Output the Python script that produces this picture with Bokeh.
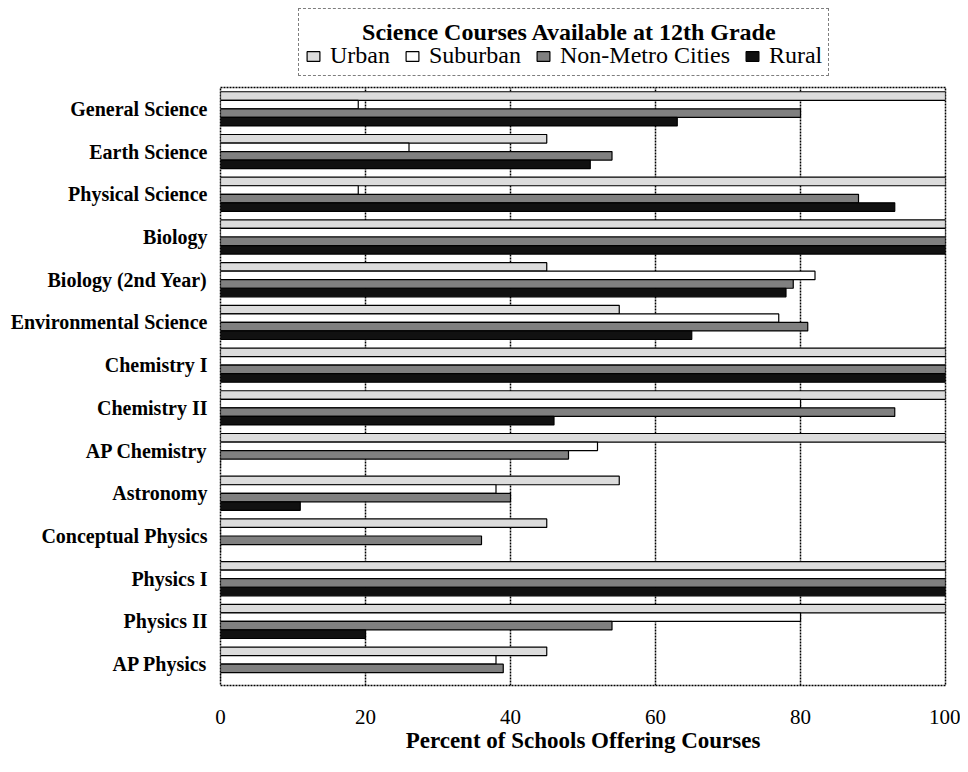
from bokeh.plotting import figure
from bokeh.layouts import column
from bokeh.models import (FactorRange, Range1d, Legend, LegendItem, ColumnDataSource,
                          FixedTicker, Label)
from bokeh.transform import dodge
from bokeh.embed import file_html
from bokeh.resources import INLINE

categories = ["General Science", "Earth Science", "Physical Science", "Biology",
              "Biology (2nd Year)", "Environmental Science", "Chemistry I", "Chemistry II",
              "AP Chemistry", "Astronomy", "Conceptual Physics", "Physics I", "Physics II",
              "AP Physics"]
series_names = ["Urban", "Suburban", "Non-Metro Cities", "Rural"]
urban = [100, 45, 100, 100, 45, 55, 100, 100, 100, 55, 45, 100, 100, 45]
suburban = [19, 26, 19, 100, 82, 77, 100, 80, 52, 38, 0, 100, 80, 38]
nonmetro = [80, 54, 88, 100, 79, 81, 100, 93, 48, 40, 36, 100, 54, 39]
rural = [63, 51, 93, 100, 78, 65, 100, 46, 0, 11, 0, 100, 20, 0]
x_ticks = [0, 20, 40, 60, 80, 100]

title_text = "Science Courses Available at 12th Grade"
x_title = "Percent of Schools Offering Courses"

colors = ["#dcdcdc", "#ffffff", "#808080", "#111111"]
offsets = [0.3, 0.1, -0.1, -0.3]
FONT = "Liberation Serif"

W = 960
HEAD_H = 80
LEFT = 220

# ---------------- header figure: title + legend ----------------
head = figure(width=W, height=HEAD_H, x_range=Range1d(0, 1), y_range=Range1d(0, 1),
              output_backend="svg", toolbar_location=None, min_border=0,
              min_border_left=LEFT, min_border_right=15)
head.axis.visible = False
head.grid.visible = False
head.outline_line_color = None

# legend-only proxy bars of zero size (nothing is drawn in the plot area)
proxies = []
for c in colors:
    r = head.hbar(y=[0.5], left=[0.5], right=[0.5], height=0, fill_color=c,
                  line_color="black", line_width=1.2)
    proxies.append(r)

items = [LegendItem(label=n, renderers=[r]) for n, r in zip(series_names, proxies)]
legend = Legend(items=items, orientation="horizontal",
                location=(298 - LEFT, HEAD_H - 76), title=" ")
legend.title_text_font = FONT
legend.title_text_font_size = "24px"
legend.title_standoff = 0
legend.label_text_font = FONT
legend.label_text_font_size = "24px"
legend.label_text_color = "black"
legend.glyph_width = 16
legend.glyph_height = 12
legend.label_standoff = 9
legend.spacing = 14
legend.padding = 6
legend.margin = 0
legend.border_line_color = "black"
legend.border_line_dash = "2 1"
legend.border_line_width = 1.5
legend.background_fill_alpha = 0.0
head.add_layout(legend, "center")

head.add_layout(Label(x=569 - LEFT, y=HEAD_H - 31, x_units="screen", y_units="screen",
                      text=title_text, text_align="center", text_baseline="middle",
                      text_font=FONT, text_font_style="bold", text_font_size="24px",
                      text_color="black"))

# ---------------- main chart ----------------
src = ColumnDataSource(dict(cat=categories, urban=urban, suburban=suburban,
                            nonmetro=nonmetro, rural=rural))

p = figure(width=W, height=756 - HEAD_H,
           y_range=FactorRange(*reversed(categories)), x_range=Range1d(0, 100),
           output_backend="svg", toolbar_location=None,
           min_border_left=LEFT, min_border_right=15,
           min_border_top=87 - HEAD_H, min_border_bottom=71)

for col, c, off in zip(["urban", "suburban", "nonmetro", "rural"], colors, offsets):
    p.hbar(y=dodge("cat", off, range=p.y_range), left=0, right=col, height=0.2,
           source=src, fill_color=c, line_color="black", line_width=1.2)

p.outline_line_color = "black"
p.outline_line_dash = "2 1"
p.outline_line_width = 1.5

p.xgrid.ticker = FixedTicker(ticks=x_ticks)
p.xgrid.grid_line_color = "black"
p.xgrid.grid_line_dash = "2 1"
p.xgrid.grid_line_width = 1.5
p.ygrid.grid_line_color = None

p.xaxis.ticker = FixedTicker(ticks=x_ticks)
p.xaxis.axis_line_color = None
p.xaxis.major_tick_line_color = None
p.xaxis.minor_tick_line_color = None
p.xaxis.major_tick_out = 0
p.xaxis.major_label_standoff = 24
p.xaxis.major_label_text_font = FONT
p.xaxis.major_label_text_font_size = "21px"
p.xaxis.major_label_text_color = "black"
p.xaxis.axis_label = x_title
p.xaxis.axis_label_text_font = FONT
p.xaxis.axis_label_text_font_style = "bold"
p.xaxis.axis_label_text_font_size = "23px"
p.xaxis.axis_label_text_color = "black"
p.xaxis.axis_label_standoff = 1

p.yaxis.axis_line_color = None
p.yaxis.major_tick_line_color = None
p.yaxis.major_tick_out = 0
p.yaxis.major_label_standoff = 13
p.yaxis.major_label_text_font = FONT
p.yaxis.major_label_text_font_style = "bold"
p.yaxis.major_label_text_font_size = "20px"
p.yaxis.major_label_text_color = "black"

layout = column(head, p, spacing=0)
open("out.html", "w").write(file_html(layout, INLINE))
